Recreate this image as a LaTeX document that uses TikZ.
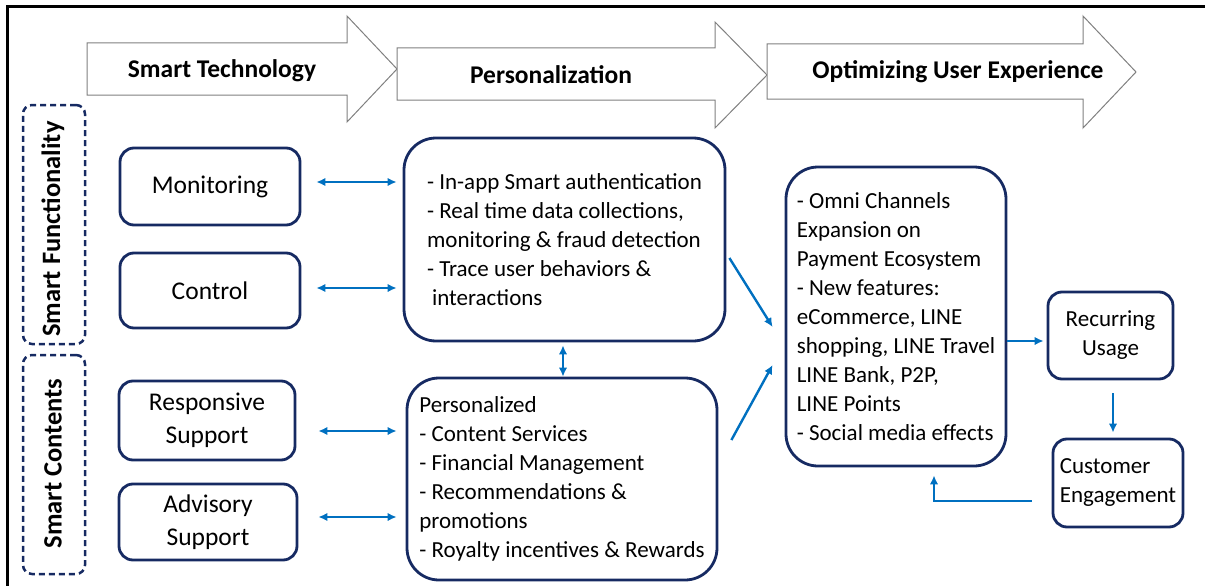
\documentclass[tikz,border=0pt]{standalone}
\usepackage{fontspec}
\setmainfont{Carlito}
\usetikzlibrary{arrows.meta,calc}
\definecolor{navy}{RGB}{22,42,98}
\definecolor{linkblue}{RGB}{0,112,192}
\definecolor{bannergray}{RGB}{128,128,128}

\begin{document}
\begin{tikzpicture}[x=1pt,y=-1pt,
  card/.style={draw=navy,line width=2.8pt,rounded corners=14pt,fill=white,inner sep=0pt,align=center,font=\fontsize{25.5}{33}\selectfont},
  panel/.style={draw=navy,line width=2.8pt,rounded corners=32pt,inner sep=0pt,align=left,font=\fontsize{23}{29}\selectfont},
  smallcard/.style={draw=navy,line width=2.8pt,rounded corners=14pt,inner sep=0pt,font=\fontsize{23}{29}\selectfont},
  group/.style={draw=navy,line width=2.5pt,dash pattern=on 6pt off 4pt,rounded corners=9pt,inner sep=0pt},
  banner/.style={draw=bannergray,line width=1pt,fill=white},
  heading/.style={font=\bfseries\fontsize{25.5}{30}\selectfont,inner sep=0pt},
  sidelabel/.style={font=\bfseries\fontsize{26.5}{30}\selectfont,inner sep=0pt,rotate=90},
  tip/.tip={Latex[length=9pt,width=8.5pt]},
  link/.style={draw=linkblue,line width=2.4pt,-tip},
  dlink/.style={draw=linkblue,line width=2.4pt,tip-tip},
]
\useasboundingbox (0,0) rectangle (1205,586);

% frame
\draw[line width=3pt] (7,586) -- (7,7) -- (1205,7);

% stage banners
\draw[banner] (87,43) -- (347,43) -- (347,16) -- (397,69) -- (347,122) -- (347,95) -- (87,95) -- cycle;
\draw[banner] (397,48) -- (715,48) -- (715,22) -- (767,75) -- (715,128) -- (715,100) -- (397,100) -- cycle;
\draw[banner] (767,44) -- (1083,44) -- (1083,16) -- (1136,72) -- (1083,128) -- (1083,99) -- (767,99) -- cycle;
\node[heading] (h1) at (222,71) {Smart Technology};
\node[heading] (h2) at (551,75) {Personalization};
\node[heading] (h3) at (958,72) {Optimizing User Experience};

% groups
\node[group,minimum width=62pt,minimum height=239pt] (gf) at (54,224.5) {};
\node[sidelabel] (gfl) at (53,229) {Smart Functionality};
\node[group,minimum width=62pt,minimum height=219pt] (gc) at (54,464.5) {};
\node[sidelabel] (gcl) at (53,463.5) {Smart Contents};

% left cards
\node[card,minimum width=180pt,minimum height=77pt] (mon) at (210,186.5) {Monitoring};
\node[card,minimum width=180pt,minimum height=75pt] (ctl) at (210,290.5) {Control};
\node[card,minimum width=176pt,minimum height=79pt] (rsp) at (207,420.5) {Responsive\\Support};
\node[card,minimum width=178pt,minimum height=76pt] (adv) at (208,522) {Advisory\\Support};

% middle panels
\node[panel,minimum width=321pt,minimum height=203pt] (A) at (564.5,239.5)
  {- In-app Smart authentication\\- Real time data collections,\\monitoring \& fraud detection\\- Trace user behaviors \&\\\hspace{5pt}interactions};
\node[panel,minimum width=310pt,minimum height=202pt] (B) at (562,479)
  {Personalized\\- Content Services\\- Financial Management\\- Recommendations \&\\promotions\\- Royalty incentives \& Rewards};

% right panel
\node[panel,minimum width=220pt,minimum height=299pt] (C) at (896,316.5)
  {- Omni Channels\\Expansion on\\Payment Ecosystem\\- New features:\\eCommerce, LINE\\shopping, LINE Travel\\LINE Bank, P2P,\\LINE Points\\- Social media effects};

\node[smallcard,align=center,minimum width=125pt,minimum height=87pt] (RU) at (1110.5,335.5) {Recurring\\Usage};
\node[smallcard,align=left,minimum width=130pt,minimum height=88pt] (CE) at (1118,483) {Customer\\Engagement};

% connectors
\draw[dlink,shorten <=15pt,shorten >=6pt] ($(mon.east)+(0,-4.5)$) -- ($(mon.east -| A.west)+(0,-4.5)$);
\draw[dlink,shorten <=15pt,shorten >=6pt] ($(ctl.east)+(0,-2.5)$) -- ($(ctl.east -| A.west)+(0,-2.5)$);
\draw[dlink,shorten <=22pt,shorten >=9pt] ($(rsp.east)+(0,10.5)$) -- ($(rsp.east -| B.west)+(0,10.5)$);
\draw[dlink,shorten <=20pt,shorten >=9pt] ($(adv.east)+(0,-5)$) -- ($(adv.east -| B.west)+(0,-5)$);
\draw[dlink,shorten <=3pt] ($(A.south)+(-1.5,0)$) -- ($(A.south |- B.north)+(-1.5,0)$);

\draw[link] ($(A.east)+(3,18.5)$) -- ($(C.west)+(-12,10.5)$);
\draw[link] ($(B.east)+(13,-39)$) -- ($(C.west)+(-12,48.5)$);
\draw[link,shorten >=3pt] ($(C.east |- RU.west)+(0,5.5)$) -- ($(RU.west)+(0,5.5)$);
\draw[link] ($(RU.south)+(2.5,13)$) -- ($(RU.south |- CE.north)+(2.5,-5)$);
\draw[link] ($(CE.west)+(-20,18)$) -| ($(C.south)+(38,8)$);

\end{tikzpicture}
\end{document}
